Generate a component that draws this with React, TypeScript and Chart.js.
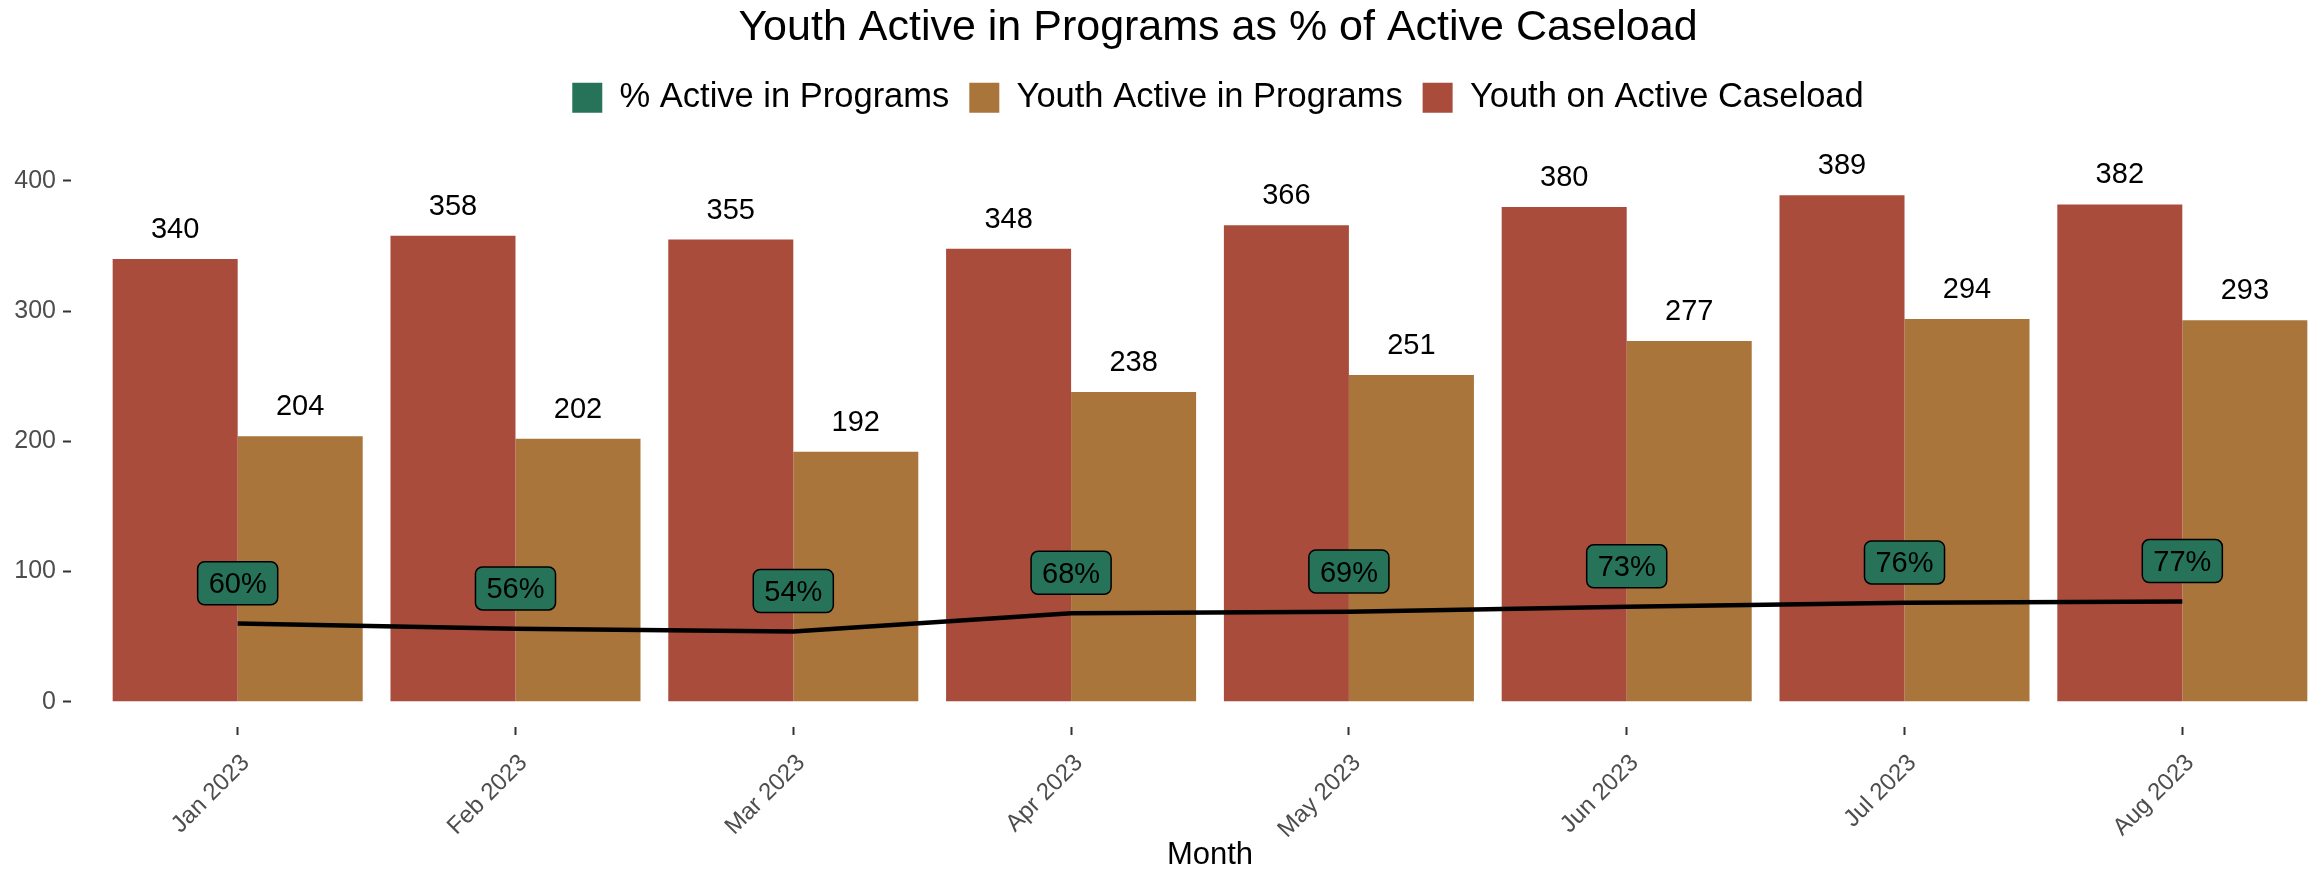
import React, { useEffect, useRef } from "react";
import { Chart, registerables } from "chart.js";

Chart.register(...registerables);

const months = ["Jan 2023", "Feb 2023", "Mar 2023", "Apr 2023", "May 2023", "Jun 2023", "Jul 2023", "Aug 2023"];
const caseload = [340, 358, 355, 348, 366, 380, 389, 382];
const activeInPrograms = [204, 202, 192, 238, 251, 277, 294, 293];
const pctActive = [60, 56, 54, 68, 69, 73, 76, 77];
const yTickValues = [0, 100, 200, 300, 400];

const TITLE = "Youth Active in Programs as % of Active Caseload";
const LEGEND_ITEMS = ["% Active in Programs", "Youth Active in Programs", "Youth on Active Caseload"];
const COLOR_RED = "#A94C3C";
const COLOR_TAN = "#A9753B";
const COLOR_GREEN = "#26735A";
const FONT = '"Liberation Sans", Arial, Helvetica, sans-serif';

const PCT_LABEL_NUDGE = 31;

const CANVAS_W = 2436;
const CANVAS_H = 871;

const labelPlugin = {
  id: "valueLabels",
  afterDatasetsDraw(chart: any) {
    const ctx = chart.ctx as CanvasRenderingContext2D;
    ctx.save();
    // bar value labels
    [1, 2].forEach((di) => {
      const meta = chart.getDatasetMeta(di);
      const values = di === 1 ? caseload : activeInPrograms;
      meta.data.forEach((el: any, i: number) => {
        ctx.font = `29px ${FONT}`;
        ctx.fillStyle = "#000";
        ctx.textAlign = "center";
        ctx.textBaseline = "alphabetic";
        ctx.fillText(String(values[i]), el.x, el.y - 21);
      });
    });
    // percent labels
    const lm = chart.getDatasetMeta(0);
    const ys = chart.scales.y;
    lm.data.forEach((pt: any, i: number) => {
      const text = `${pctActive[i]}%`;
      ctx.font = `29px ${FONT}`;
      const tw = ctx.measureText(text).width;
      const w = tw + 22;
      const h = 43;
      const cx = pt.x;
      const cy = ys.getPixelForValue(pctActive[i] + PCT_LABEL_NUDGE);
      const x0 = cx - w / 2;
      const y0 = cy - h / 2;
      const r = 7;
      ctx.beginPath();
      ctx.moveTo(x0 + r, y0);
      ctx.lineTo(x0 + w - r, y0);
      ctx.arcTo(x0 + w, y0, x0 + w, y0 + r, r);
      ctx.lineTo(x0 + w, y0 + h - r);
      ctx.arcTo(x0 + w, y0 + h, x0 + w - r, y0 + h, r);
      ctx.lineTo(x0 + r, y0 + h);
      ctx.arcTo(x0, y0 + h, x0, y0 + h - r, r);
      ctx.lineTo(x0, y0 + r);
      ctx.arcTo(x0, y0, x0 + r, y0, r);
      ctx.closePath();
      ctx.fillStyle = COLOR_GREEN;
      ctx.fill();
      ctx.lineWidth = 1.5;
      ctx.strokeStyle = "#000";
      ctx.stroke();
      ctx.fillStyle = "#000";
      ctx.textAlign = "center";
      ctx.textBaseline = "middle";
      ctx.fillText(text, cx, cy + 2);
    });
    ctx.restore();
  },
};

const legendSpacer = {
  id: "legendSpacer",
  beforeLayout(chart: any) {
    const l = chart.legend;
    if (l && !l.__patched) {
      const orig = l.fit;
      l.fit = function () {
        orig.call(this);
        this.height = 109.4;
      };
      l.__patched = true;
    }
  },
};

export default function App() {
  const ref = useRef<HTMLCanvasElement | null>(null);

  useEffect(() => {
    if (!ref.current) return;
    const yMax = Math.max(...caseload) * 1.05;
    const yMin = -Math.max(...caseload) * 0.05;
    const chart = new Chart(ref.current, {
      type: "bar",
      data: {
        datasets: [
          {
            type: "line",
            label: LEGEND_ITEMS[0],
            data: pctActive.map((v, i) => ({ x: i, y: v })),
            borderColor: "#000",
            backgroundColor: COLOR_GREEN,
            borderWidth: 4.5,
            pointRadius: 0,
            tension: 0,
            borderJoinStyle: "round",
            yAxisID: "y",
            xAxisID: "x",
          } as any,
          {
            type: "bar",
            label: LEGEND_ITEMS[2],
            data: caseload.map((v, i) => ({ x: i, y: v })),
            backgroundColor: COLOR_RED,
            borderWidth: 0,
            categoryPercentage: 0.9,
            barPercentage: 1.0,
            yAxisID: "y",
            xAxisID: "x",
          },
          {
            type: "bar",
            label: LEGEND_ITEMS[1],
            data: activeInPrograms.map((v, i) => ({ x: i, y: v })),
            backgroundColor: COLOR_TAN,
            borderWidth: 0,
            categoryPercentage: 0.9,
            barPercentage: 1.0,
            yAxisID: "y",
            xAxisID: "x",
          },
        ],
      },
      options: {
        responsive: false,
        animation: false,
        devicePixelRatio: 1,
        layout: { padding: 0 },
        plugins: {
          tooltip: { enabled: false },
          title: {
            display: true,
            text: TITLE,
            color: "#000",
            font: { family: FONT, size: 43, weight: "normal" },
            padding: { top: 2, bottom: 7 },
          },
          legend: {
            display: true,
            position: "top",
            align: "center",
            labels: {
              boxWidth: 30,
              boxHeight: 30,
              padding: 20,
              color: "#000",
              font: { family: FONT, size: 34.5 },
              generateLabels: () => [
                { text: LEGEND_ITEMS[0], fillStyle: COLOR_GREEN, strokeStyle: COLOR_GREEN, lineWidth: 0, hidden: false, datasetIndex: 0 },
                { text: LEGEND_ITEMS[1], fillStyle: COLOR_TAN, strokeStyle: COLOR_TAN, lineWidth: 0, hidden: false, datasetIndex: 2 },
                { text: LEGEND_ITEMS[2], fillStyle: COLOR_RED, strokeStyle: COLOR_RED, lineWidth: 0, hidden: false, datasetIndex: 1 },
              ],
            },
          },
        },
        scales: {
          x: {
            type: "linear",
            position: "bottom",
            min: -0.6,
            max: months.length - 1 + 0.6,
            offset: false,
            afterBuildTicks: (axis: any) => {
              axis.ticks = months.map((_, i) => ({ value: i }));
            },
            afterFit: (axis: any) => {
              axis.height = 144;
            },
            ticks: {
              autoSkip: false,
              minRotation: 45,
              maxRotation: 45,
              padding: 14,
              labelOffset: 8,
              color: "#4D4D4D",
              font: { family: FONT, size: 24 },
              callback: (v: any) => months[Math.round(Number(v))] ?? "",
            },
            grid: {
              display: true,
              drawOnChartArea: false,
              offset: false,
              tickLength: 8,
              tickWidth: 2,
              tickColor: "#333333",
            },
            border: { display: false },
            title: {
              display: true,
              text: "Month",
              color: "#000",
              font: { family: FONT, size: 31, lineHeight: 1 },
              padding: 0,
            },
          },
          y: {
            type: "linear",
            position: "left",
            min: yMin,
            max: yMax,
            afterBuildTicks: (axis: any) => {
              axis.ticks = yTickValues.map((v) => ({ value: v }));
            },
            afterFit: (axis: any) => {
              axis.width = 71;
            },
            ticks: {
              padding: 7,
              color: "#4D4D4D",
              font: { family: FONT, size: 25 },
              callback: (v: any) => String(v),
            },
            grid: {
              display: true,
              drawOnChartArea: false,
              tickLength: 8,
              tickWidth: 2,
              tickColor: "#333333",
            },
            border: { display: false },
          },
          y2: {
            type: "linear",
            position: "right",
            display: true,
            ticks: { display: false },
            grid: { display: false },
            border: { display: false },
            afterFit: (axis: any) => {
              axis.width = 87;
            },
          },
        },
      } as any,
      plugins: [labelPlugin, legendSpacer],
    });
    return () => chart.destroy();
  }, []);

  return (
    <div
      style={{
        position: "fixed",
        left: 0,
        top: 0,
        width: 2323,
        height: 871,
        overflow: "hidden",
        background: "#fff",
      }}
    >
      <canvas ref={ref} width={CANVAS_W} height={CANVAS_H} style={{ display: "block" }} />
    </div>
  );
}
